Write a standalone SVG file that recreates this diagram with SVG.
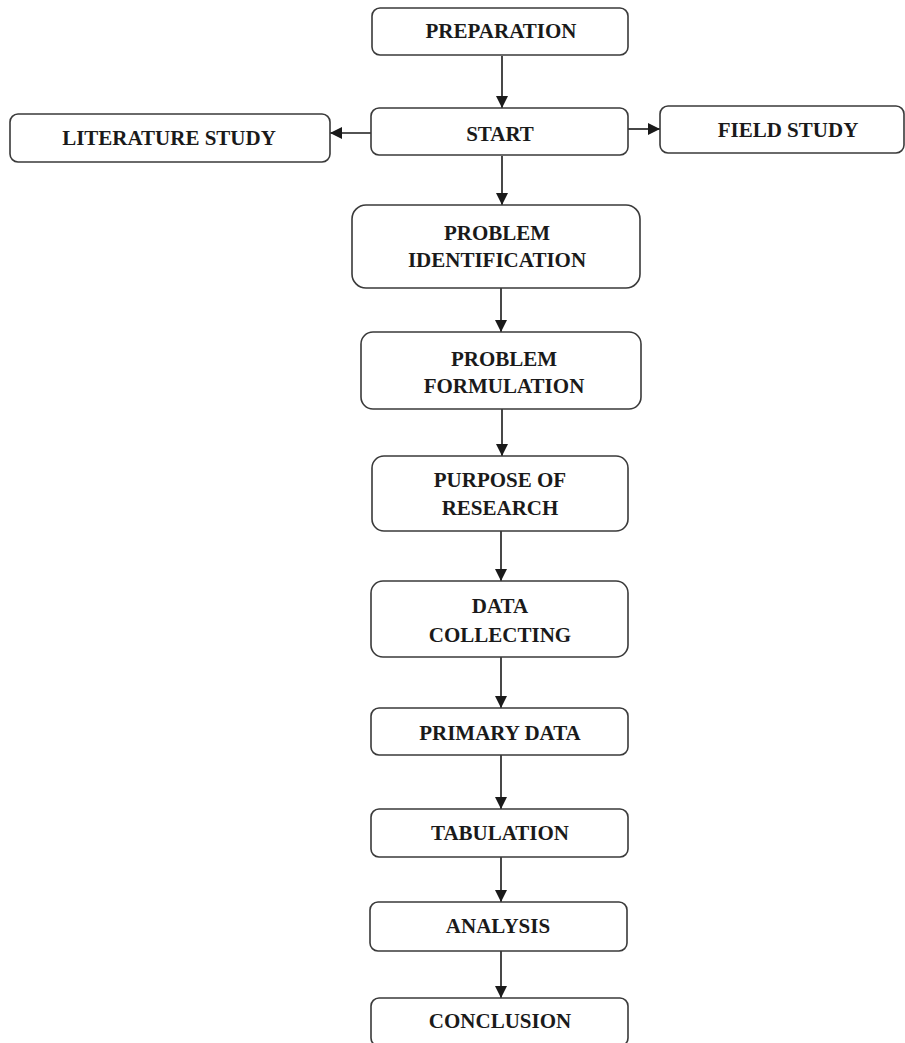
<svg xmlns="http://www.w3.org/2000/svg" width="905" height="1043" viewBox="0 0 905 1043">
<style>
.box{fill:#fff;stroke:#3a3a3a;stroke-width:1.6}
.t{font-family:"Liberation Serif","Times New Roman",serif;font-weight:bold;font-size:21px;fill:#1a1a1a;text-anchor:middle}
.c{stroke:#1a1a1a;stroke-width:1.6;fill:none}
</style>
<defs>
<marker id="ah" viewBox="0 0 10 10" refX="10" refY="5" markerWidth="8" markerHeight="8" markerUnits="userSpaceOnUse" orient="auto">
<path d="M0,0 L10,5 L0,10 Z" fill="#1a1a1a"/>
</marker>
<marker id="av" viewBox="0 0 10 10" refX="10" refY="5" markerWidth="14" markerHeight="12" markerUnits="userSpaceOnUse" orient="auto">
<path d="M0,0 L10,5 L0,10 Z" fill="#1a1a1a"/>
</marker>
</defs>
<rect width="905" height="1043" fill="#fff"/>
<g id="connectors">
<line class="c" x1="502" y1="56" x2="502" y2="108" marker-end="url(#av)"/>
<line class="c" x1="371" y1="133" x2="330" y2="133" marker-end="url(#av)"/>
<line class="c" x1="628" y1="129" x2="660" y2="129" marker-end="url(#av)"/>
<line class="c" x1="502" y1="156" x2="502" y2="205" marker-end="url(#av)"/>
<line class="c" x1="501" y1="288" x2="501" y2="332" marker-end="url(#av)"/>
<line class="c" x1="502" y1="409" x2="502" y2="456" marker-end="url(#av)"/>
<line class="c" x1="501" y1="531" x2="501" y2="581" marker-end="url(#av)"/>
<line class="c" x1="501" y1="657" x2="501" y2="708" marker-end="url(#av)"/>
<line class="c" x1="501" y1="755" x2="501" y2="809" marker-end="url(#av)"/>
<line class="c" x1="501" y1="857" x2="501" y2="902" marker-end="url(#av)"/>
<line class="c" x1="501" y1="951" x2="501" y2="998" marker-end="url(#av)"/>
</g>
<g id="preparation"><rect class="box" x="372" y="8" width="256" height="47" rx="8"/><text class="t" x="501" y="38">PREPARATION</text></g>
<g id="start"><rect class="box" x="371" y="108" width="257" height="47" rx="8"/><text class="t" x="500" y="141">START</text></g>
<g id="literature-study"><rect class="box" x="10" y="114" width="320" height="48" rx="8"/><text class="t" x="169" y="145">LITERATURE STUDY</text></g>
<g id="field-study"><rect class="box" x="660" y="106" width="244" height="47" rx="8"/><text class="t" x="788" y="137">FIELD STUDY</text></g>
<g id="problem-identification"><rect class="box" x="352" y="205" width="288" height="83" rx="14"/><text class="t" x="497" y="240">PROBLEM</text><text class="t" x="497" y="267">IDENTIFICATION</text></g>
<g id="problem-formulation"><rect class="box" x="361" y="332" width="280" height="77" rx="12"/><text class="t" x="504" y="366">PROBLEM</text><text class="t" x="504" y="393">FORMULATION</text></g>
<g id="purpose-of-research"><rect class="box" x="372" y="456" width="256" height="75" rx="12"/><text class="t" x="500" y="487">PURPOSE OF</text><text class="t" x="500" y="515">RESEARCH</text></g>
<g id="data-collecting"><rect class="box" x="371" y="581" width="257" height="76" rx="12"/><text class="t" x="500" y="613">DATA</text><text class="t" x="500" y="642">COLLECTING</text></g>
<g id="primary-data"><rect class="box" x="371" y="708" width="257" height="47" rx="8"/><text class="t" x="500" y="740">PRIMARY DATA</text></g>
<g id="tabulation"><rect class="box" x="371" y="809" width="257" height="48" rx="8"/><text class="t" x="500" y="840">TABULATION</text></g>
<g id="analysis"><rect class="box" x="370" y="902" width="257" height="49" rx="8"/><text class="t" x="498" y="933">ANALYSIS</text></g>
<g id="conclusion"><rect class="box" x="371" y="998" width="257" height="48" rx="8"/><text class="t" x="500" y="1028">CONCLUSION</text></g>
</svg>
